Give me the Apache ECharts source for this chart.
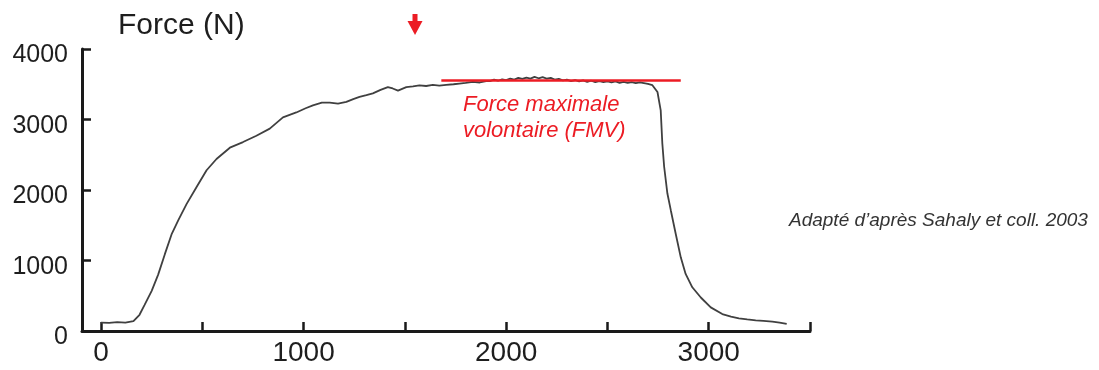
<!DOCTYPE html>
<html>
<head>
<meta charset="utf-8">
<script src="https://cdn.jsdelivr.net/npm/echarts@6/dist/echarts.min.js"></script>
<style>
html,body{margin:0;padding:0;background:#fff;}
#c{width:1099px;height:370px;}
</style>
</head>
<body>
<div id="c"></div>
<script>
// ---- data ----
var timeMs = [0, 40, 80, 120, 160, 190, 215, 250, 282, 315, 348, 381, 422, 471, 521, 570, 636, 701, 767, 833, 898, 964, 1010, 1046, 1090, 1129, 1170, 1211, 1245, 1276, 1310, 1342, 1380, 1416, 1440, 1466, 1507, 1540, 1572, 1605, 1638, 1670, 1704, 1740, 1769, 1800, 1835, 1870, 1901,
  1920, 1940, 1960, 1980, 2000, 2020, 2040, 2060, 2080, 2100, 2120, 2140, 2160, 2180, 2200, 2220, 2240, 2260, 2280, 2300, 2320, 2340, 2360, 2380, 2400, 2420, 2440, 2460, 2480, 2500, 2520, 2540, 2560, 2580, 2600, 2620, 2640, 2660, 2680, 2700, 2722,
  2747, 2763, 2771, 2780, 2796, 2813, 2837, 2862, 2886, 2919, 2961, 3010, 3067, 3110, 3149, 3190, 3232, 3270, 3314, 3350, 3385];
var forceN = [120, 115, 125, 120, 140, 230, 370, 570, 800, 1090, 1370, 1570, 1800, 2040, 2280, 2440, 2600, 2680, 2770, 2870, 3030, 3100, 3160, 3200, 3240, 3240, 3225, 3250, 3290, 3320, 3345, 3370, 3420, 3460, 3440, 3410, 3460, 3470, 3485, 3475, 3490, 3480, 3490, 3500, 3510, 3520, 3535, 3525, 3545,
  3545, 3565, 3550, 3570, 3560, 3580, 3565, 3590, 3575, 3595, 3580, 3605, 3585, 3600, 3580, 3590, 3565, 3575, 3555, 3565, 3545, 3560, 3540, 3555, 3535, 3550, 3530, 3545, 3530, 3540, 3525, 3540, 3520, 3535, 3520, 3530, 3515, 3525, 3515, 3505, 3487,
  3390, 3130, 2660, 2330, 1950, 1710, 1380, 1045, 810, 620, 475, 335, 240, 205, 180, 165, 152, 145, 133, 118, 100];
var xLabelValues = [0, 1000, 2000, 3000];
var xTickValues = [0, 500, 1000, 1500, 2000, 2500, 3000, 3500];
var fmvLevel = 3555;
var fmvStart = 1680, fmvEnd = 2862;
var arrowAt = 1550;
var yTitle = 'Force (N)';
var fmvText = 'Force maximale\nvolontaire (FMV)';
var sourceText = 'Adapté d’après Sahaly et coll. 2003';

var pairs = timeMs.map(function (t, i) { return [t, forceN[i]]; });
var FONT = '"Liberation Sans", Arial, sans-serif';
var AX = '#1a1a1a';
var TXT = '#1e1e1e';
var RED = '#ec1c24';
function plain(v) { return String(v); }

var chart = echarts.init(document.getElementById('c'), null, {renderer: 'canvas'});
chart.setOption({
  animation: false,
  backgroundColor: '#fff',
  grid: {left: 82, right: 289, top: 49, bottom: 39, containLabel: false},
  xAxis: {
    type: 'value', min: -94, max: 3500,
    axisLine: {show: true, onZero: false, lineStyle: {color: AX, width: 3}},
    axisTick: {show: true, inside: true, length: 9, customValues: xTickValues, lineStyle: {color: AX, width: 2.5}},
    axisLabel: {customValues: xLabelValues, formatter: plain, fontSize: 28, color: TXT, fontFamily: FONT, margin: 8},
    splitLine: {show: false}
  },
  yAxis: {
    type: 'value', min: 0, max: 4000, interval: 1000,
    axisLine: {show: true, onZero: false, lineStyle: {color: AX, width: 3}},
    axisTick: {show: true, inside: true, length: 9, lineStyle: {color: AX, width: 2.5}},
    axisLabel: {formatter: plain, fontSize: 25, color: TXT, fontFamily: FONT, margin: 14, verticalAlign: 'top', lineHeight: 13},
    splitLine: {show: false}
  },
  series: [{
    type: 'line',
    data: pairs,
    showSymbol: false,
    lineStyle: {color: '#404040', width: 1.8},
    markLine: {
      silent: true,
      symbol: ['none', 'none'],
      label: {show: false},
      lineStyle: {color: RED, width: 2.5, type: 'solid'},
      data: [[{coord: [fmvStart, fmvLevel]}, {coord: [fmvEnd, fmvLevel]}]]
    }
  }]
});

var ax = chart.convertToPixel({xAxisIndex: 0}, arrowAt);
chart.setOption({
  graphic: [
    {type: 'text', left: 118, top: 11, style: {text: yTitle, font: '30px ' + FONT, fill: TXT}},
    {type: 'rect', shape: {x: ax - 2.5, y: 14, width: 5, height: 9}, style: {fill: RED}},
    {type: 'polygon', shape: {points: [[ax - 7.5, 21], [ax + 7.5, 21], [ax, 35]]}, style: {fill: RED}},
    {type: 'text', x: 463, y: 92, style: {text: fmvText, font: 'italic 22px ' + FONT, fill: RED, lineHeight: 26, verticalAlign: 'top'}},
    {type: 'text', x: 789, y: 221, style: {text: sourceText, font: 'italic 19px ' + FONT, fill: '#333', verticalAlign: 'middle'}}
  ]
});
</script>
</body>
</html>
